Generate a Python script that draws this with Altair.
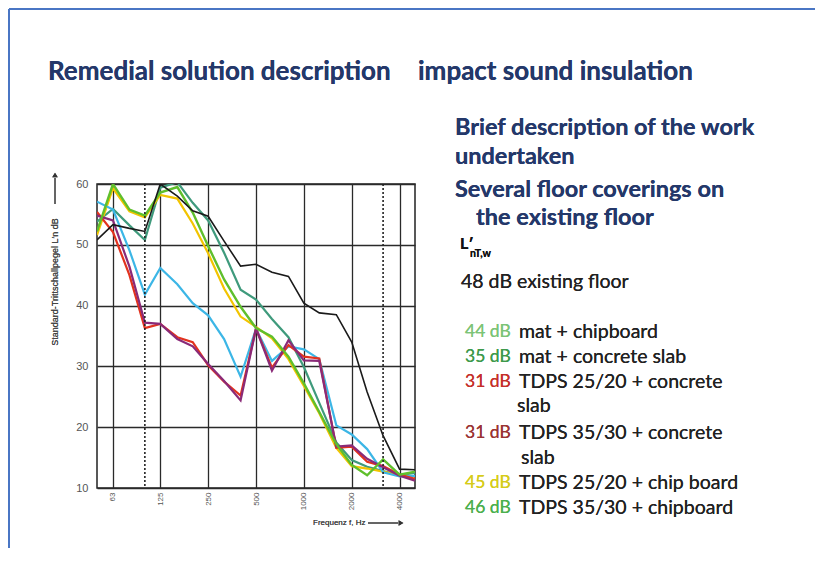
import altair as alt
import pandas as pd

# Third-octave band centre frequencies (Hz)
freqs = [50, 63, 80, 100, 125, 160, 200, 250, 315, 400, 500, 630, 800,
         1000, 1250, 1600, 2000, 2500, 3150, 4000, 5000]

# L'n (dB) per band
existing_48 = [50.8, 53.3, 52.7, 52.2, 60.0, 58.0, 55.6, 54.7, 50.6, 46.5, 46.8,
               45.5, 44.8, 40.4, 38.8, 38.5, 34.0, 25.8, 18.6, 13.1, 13.0]
mat_chip_44 = [53.8, 55.9, 53.2, 50.8, 59.4, 60.3, 56.9, 54.0, 48.7, 42.6, 41.0,
               37.8, 34.8, 29.9, 24.0, 17.5, 14.6, 13.5, 12.8, 12.1, 12.5]
mat_conc_35 = [57.1, 55.8, 49.1, 41.8, 46.2, 43.5, 40.4, 38.4, 34.5, 28.3, 36.2,
               30.9, 33.3, 32.8, 31.2, 20.3, 18.8, 16.4, 12.6, 11.9, 12.0]
tdps2520_conc_31 = [55.4, 52.1, 45.0, 36.3, 37.0, 34.8, 34.0, 30.2, 27.5, 25.2, 36.2,
                    29.8, 33.5, 31.6, 31.3, 16.6, 16.8, 14.3, 13.6, 12.2, 11.5]
tdps3530_conc_31 = [54.8, 54.0, 46.4, 37.2, 37.0, 34.5, 33.3, 30.4, 27.6, 24.4, 36.2,
                    29.3, 34.3, 31.0, 30.9, 16.8, 17.0, 14.8, 13.4, 12.0, 11.2]
tdps2520_chip_45 = [51.6, 59.3, 55.5, 54.5, 58.2, 57.6, 53.5, 48.6, 42.8, 38.2, 36.5,
                    34.6, 31.2, 26.8, 22.3, 16.6, 13.6, 13.2, 12.7, 12.1, 11.9]
tdps3530_chip_46 = [52.2, 60.0, 55.8, 54.8, 58.6, 59.5, 55.3, 49.8, 44.3, 39.8, 36.3,
                    34.9, 31.6, 27.2, 22.5, 17.2, 13.8, 12.1, 14.7, 12.2, 12.7]

dashed_freqs = [100, 3150]
tick_freqs = [63, 125, 250, 500, 1000, 2000, 4000]
y_ticks = [10, 20, 30, 40, 50, 60]

series = [
    ("mat + chipboard", mat_chip_44, "#3f9a7c", 2.2),
    ("TDPS 25/20 + chip board", tdps2520_chip_45, "#f2c400", 2.2),
    ("mat + concrete slab", mat_conc_35, "#3cb6e6", 2.2),
    ("TDPS 25/20 + concrete slab", tdps2520_conc_31, "#e2321e", 2.2),
    ("TDPS 35/30 + concrete slab", tdps3530_conc_31, "#8a2a78", 2.2),
    ("TDPS 35/30 + chipboard", tdps3530_chip_46, "#5fbf2c", 2.4),
    ("existing floor", existing_48, "#1a1a1a", 1.6),
]

X = alt.X("f:Q",
          scale=alt.Scale(type="log", domain=[50, 5000], nice=False),
          axis=alt.Axis(values=tick_freqs, labelAngle=270, labelFontSize=8,
                        labelColor="#555", labelFont="Liberation Sans",
                        ticks=False, domain=False, grid=True, gridColor="#2a2a2a",
                        gridWidth=1.3, labelPadding=4, title=None,
                        labelExpr="datum.value"))
Y = alt.Y("v:Q",
          scale=alt.Scale(domain=[10, 60], nice=False),
          axis=alt.Axis(values=y_ticks, labelFontSize=11, labelColor="#555",
                        labelFont="Liberation Sans", ticks=False, domain=False,
                        grid=True, gridColor="#2a2a2a", gridWidth=1.3,
                        labelPadding=9, title=None))

layers = []
for name, vals, col, w in series:
    df = pd.DataFrame({"f": freqs, "v": vals, "s": name})
    layers.append(alt.Chart(df).mark_line(color=col, strokeWidth=w, clip=True)
                  .encode(x=X, y=Y))

dash_df = pd.DataFrame({"f": dashed_freqs})
layers.append(alt.Chart(dash_df).mark_rule(color="#222", strokeWidth=1.6,
                                           strokeDash=[2, 2])
              .encode(x=X))

# helper: page coords -> plot coords (plot origin at page 97,184)
def T(px, py, text, size, color="#222", weight="normal", font="Lato",
      align="left", angle=0):
    kw = dict(fontSize=size, color=color, fontWeight=weight, font=font,
              align=align, baseline="middle")
    if angle:
        kw["angle"] = angle
    return alt.Chart(dash_df).mark_text(**kw).encode(
        x=alt.value(px - 97), y=alt.value(py - 184), text=alt.value(text))

navy = "#24386a"
LS = 19.5
DS = 17.5
texts = [
    T(48, 72, "Remedial solution description", 26, navy, "bold"),
    T(418, 72, "impact sound insulation", 26, navy, "bold"),
    T(455, 128, "Brief description of the work", 23.5, navy, "bold"),
    T(455, 157, "undertaken", 23.5, navy, "bold"),
    T(455, 190, "Several floor coverings on", 23.5, navy, "bold"),
    T(476, 218, "the existing floor", 23.5, navy, "bold"),
    T(460, 244, "L\u2032", 16, "#111", "bold"),
    T(470, 254, "nT,w", 10.5, "#111", "bold"),
    T(461, 282, "48 dB existing floor", LS, "#222"),
    T(465, 332, "44 dB", DS, "#7cc477"),
    T(519, 332, "mat + chipboard", LS, "#222"),
    T(465, 357, "35 dB", DS, "#3e9a4c"),
    T(519, 357, "mat + concrete slab", LS, "#222"),
    T(465, 382, "31 dB", DS, "#c52f2a"),
    T(519, 382, "TDPS 25/20 + concrete", LS, "#222"),
    T(517, 406, "slab", LS, "#222"),
    T(465, 433, "31 dB", DS, "#9b3434"),
    T(519, 433, "TDPS 35/30 + concrete", LS, "#222"),
    T(521, 458, "slab", LS, "#222"),
    T(465, 483, "45 dB", DS, "#d6cc1a"),
    T(519, 483, "TDPS 25/20 + chip board", LS, "#222"),
    T(465, 508, "46 dB", DS, "#4cb04e"),
    T(519, 508, "TDPS 35/30 + chipboard", LS, "#222"),
    T(313, 523, "Frequenz f, Hz", 8, "#444", font="Liberation Sans"),
    T(55, 282, "Standard-Trittschallpegel L\u2032n dB", 9, "#444",
      font="Liberation Sans", align="center", angle=270),
]
layers += texts

# arrows next to axis titles
layers.append(alt.Chart(dash_df).mark_rule(color="#333", strokeWidth=1)
              .encode(x=alt.value(368 - 97), x2=alt.value(398 - 97),
                      y=alt.value(523 - 184)))
layers.append(alt.Chart(dash_df).mark_point(shape="triangle-right", filled=True,
                                            color="#333", size=30, opacity=1)
              .encode(x=alt.value(401 - 97), y=alt.value(523 - 184)))
layers.append(alt.Chart(dash_df).mark_rule(color="#333", strokeWidth=1)
              .encode(x=alt.value(55 - 97), y=alt.value(178 - 184),
                      y2=alt.value(204 - 184)))
layers.append(alt.Chart(dash_df).mark_point(shape="triangle-up", filled=True,
                                            color="#333", size=30, opacity=1)
              .encode(x=alt.value(55 - 97), y=alt.value(175 - 184)))

# slide frame (blue)
frame = "#4a76c4"
layers.append(alt.Chart(dash_df).mark_rule(color=frame, strokeWidth=2)
              .encode(x=alt.value(-88), x2=alt.value(830 - 97),
                      y=alt.value(9 - 184)))
layers.append(alt.Chart(dash_df).mark_rule(color=frame, strokeWidth=2)
              .encode(x=alt.value(-88), y=alt.value(9 - 184),
                      y2=alt.value(561 - 184)))

chart = alt.layer(*layers).properties(
    width=318, height=304,
    autosize=alt.AutoSizeParams(type="none"),
    padding={"left": 89, "top": 176, "right": 400, "bottom": 60},
    background="white",
).configure_view(stroke="#222", strokeWidth=1.5)

chart.save("out.html", embed_options={"renderer": "svg", "actions": False})
